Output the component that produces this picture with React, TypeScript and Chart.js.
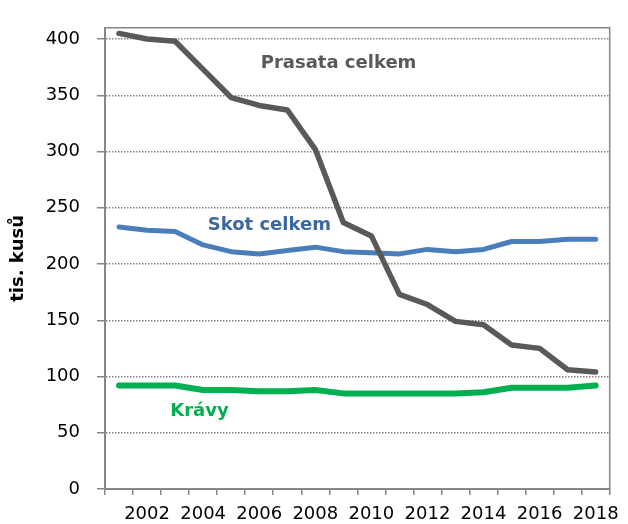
import React, { useEffect, useRef } from "react";
import { Chart, registerables } from "chart.js";

Chart.register(...registerables);

const years = ["2001","2002","2003","2004","2005","2006","2007","2008","2009","2010","2011","2012","2013","2014","2015","2016","2017","2018"];
const prasata = [405, 400, 398, 373, 348, 341, 337, 302, 237, 225, 173, 164, 149, 146, 128, 125, 106, 104];
const skot = [233, 230, 229, 217, 211, 209, 212, 215, 211, 210, 209, 213, 211, 213, 220, 220, 222, 222];
const kravy = [92, 92, 92, 88, 88, 87, 87, 88, 85, 85, 85, 85, 85, 86, 90, 90, 90, 92];
const yTicksMax = 400;
const yAxisMax = 410;
const yStep = 50;

const seriesLabels = [
  { text: "Prasata celkem", x: 7.83, y: 378, color: "#595959" },
  { text: "Skot celkem", x: 5.36, y: 234, color: "#3b67a3" },
  { text: "Krávy", x: 2.87, y: 69, color: "#00b050" },
];

const AXIS = "#868686";

export default function App() {
  const ref = useRef<HTMLCanvasElement | null>(null);
  useEffect(() => {
    document.body.style.margin = "0";
    const canvas = ref.current!;
    const labelPlugin = {
      id: "seriesLabels",
      afterDatasetsDraw(chart: any) {
        const { ctx, scales } = chart;
        ctx.save();
        ctx.font = "bold 18px 'DejaVu Sans'";
        ctx.textAlign = "center";
        ctx.textBaseline = "middle";
        for (const l of seriesLabels) {
          ctx.fillStyle = l.color;
          ctx.fillText(l.text, scales.x.getPixelForValue(l.x), scales.y.getPixelForValue(l.y));
        }
        ctx.restore();
      },
      afterDraw(chart: any) {
        const { ctx, chartArea } = chart;
        ctx.save();
        ctx.strokeStyle = AXIS;
        ctx.lineWidth = 1.5;
        ctx.beginPath();
        ctx.moveTo(chartArea.left, chartArea.top);
        ctx.lineTo(chartArea.right, chartArea.top);
        ctx.lineTo(chartArea.right, chartArea.bottom);
        ctx.stroke();
        ctx.restore();
      },
    };
    const chart = new Chart(canvas, {
      type: "line",
      data: {
        labels: years,
        datasets: [
          { label: "Prasata celkem", data: prasata, borderColor: "#595959", borderWidth: 5.5 },
          { label: "Skot celkem", data: skot, borderColor: "#4a7ebb", borderWidth: 5 },
          { label: "Krávy", data: kravy, borderColor: "#00b050", borderWidth: 6 },
        ].map((d) => ({
          ...d,
          pointRadius: 0,
          tension: 0,
          fill: false,
          borderCapStyle: "round" as const,
          borderJoinStyle: "round" as const,
        })),
      },
      options: {
        responsive: false,
        animation: false,
        layout: { padding: { left: 0, top: 16, right: 15, bottom: 0 } },
        plugins: { legend: { display: false }, tooltip: { enabled: false } },
        scales: {
          x: {
            type: "category",
            offset: true,
            grid: { offset: true, drawOnChartArea: false, drawTicks: true, tickLength: 6, color: AXIS, lineWidth: 1.5 },
            border: { color: AXIS, width: 2 },
            ticks: {
              autoSkip: false,
              maxRotation: 0,
              padding: 9,
              color: "#000",
              font: { family: "'DejaVu Sans'", size: 18 },
              callback: (_v: any, i: number) => (Number(years[i]) % 2 === 0 ? years[i] : ""),
            },
            afterFit: (s: any) => { s.height = 35; },
          },
          y: {
            min: 0,
            max: yAxisMax,
            grid: { color: AXIS, lineWidth: 1.5, tickLength: 8, tickColor: AXIS, tickBorderDash: [] },
            border: { color: AXIS, width: 2, dash: [1.5, 1.5] },
            ticks: {
              stepSize: yStep,
              includeBounds: false,
              padding: 17,
              color: "#000",
              font: { family: "'DejaVu Sans'", size: 18 },
              callback: (v: any) => (Number(v) <= yTicksMax ? String(v) : ""),
            },
            title: {
              display: true,
              text: "tis. kusů",
              color: "#000",
              font: { family: "'DejaVu Sans'", size: 18, weight: "bold" },
              padding: { top: 8, bottom: 4 },
            },
            afterFit: (s: any) => { s.width = 105; },
          },
        },
      },
      plugins: [labelPlugin],
    });
    return () => chart.destroy();
  }, []);
  return (
    <div style={{ position: "absolute", left: 0, top: 0, width: 628, height: 524, background: "#fff" }}>
      <canvas ref={ref} width={628} height={524} />
    </div>
  );
}
